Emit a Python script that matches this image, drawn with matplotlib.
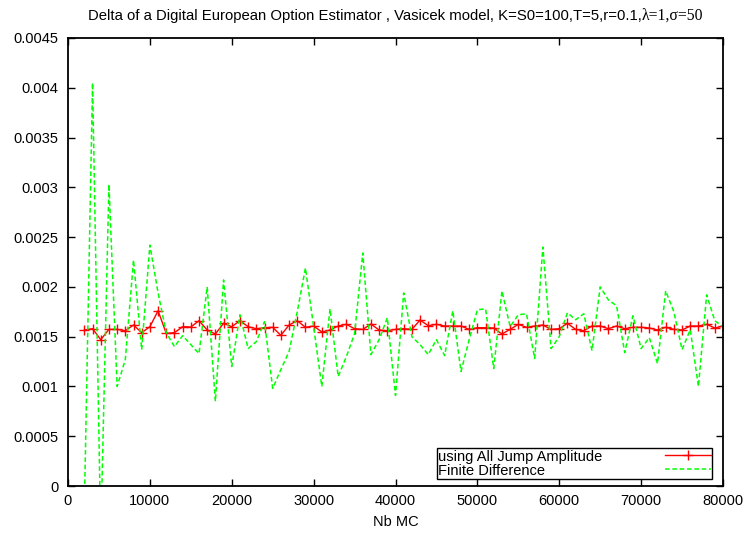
import numpy as np
from matplotlib import pyplot as plt
from matplotlib.ticker import FuncFormatter, MultipleLocator

plt.rcParams['font.family'] = ['Liberation Sans', 'DejaVu Sans']

# Nombre de tirages Monte Carlo
nb_mc = list(range(2000, 81000, 1000))

# Estimateur "All Jump Amplitude"
delta_jump = [
    0.001567, 0.00158, 0.00147, 0.001573, 0.001573, 0.00156, 0.001617, 0.00154, 0.0016, 0.00176,
    0.001533, 0.00154, 0.0016, 0.001597, 0.00166, 0.001567, 0.001527, 0.001634, 0.0016, 0.00166,
    0.0016, 0.00158, 0.00159, 0.001594, 0.001513, 0.001617, 0.00166, 0.001594, 0.001607, 0.001547,
    0.001567, 0.001607, 0.001624, 0.00158, 0.001573, 0.001627, 0.001567, 0.00156, 0.001573, 0.00158,
    0.001573, 0.001667, 0.00161, 0.001624, 0.001607, 0.001607, 0.001607, 0.001573, 0.00159, 0.00159,
    0.001587, 0.001527, 0.001573, 0.001624, 0.001594, 0.001607, 0.001617, 0.001573, 0.00158, 0.001634,
    0.001573, 0.00156, 0.001607, 0.001607, 0.00158, 0.001607, 0.00158, 0.001594, 0.001594, 0.001587,
    0.001567, 0.001594, 0.001573, 0.001567, 0.001607, 0.001607, 0.001624, 0.001587, 0.001607,
]

# Différences finies
delta_fd = [
    -0.0002, 0.00405, -0.0005, 0.00303, 0.00100, 0.00127, 0.00227, 0.00137, 0.00242, 0.00194,
    0.00154, 0.00140, 0.00151, 0.00142, 0.00133, 0.00200, 0.00085, 0.00207, 0.00120, 0.00172,
    0.00138, 0.00145, 0.00165, 0.00098, 0.00117, 0.00135, 0.00175, 0.00219, 0.00160, 0.00100,
    0.00178, 0.00110, 0.00130, 0.00153, 0.00234, 0.00132, 0.00147, 0.00169, 0.00091, 0.00194,
    0.00150, 0.00142, 0.00132, 0.00147, 0.00131, 0.00176, 0.00115, 0.00147, 0.00177, 0.00178,
    0.00118, 0.00196, 0.00160, 0.00172, 0.00173, 0.00128, 0.00240, 0.00138, 0.00150, 0.00174,
    0.00167, 0.00173, 0.00136, 0.00200, 0.00187, 0.00181, 0.00134, 0.00171, 0.00138, 0.00149,
    0.00123, 0.00196, 0.00175, 0.00137, 0.00157, 0.00100, 0.00192, 0.00166, 0.00160,
]

fig = plt.figure(figsize=(7.47, 5.33), dpi=100)
ax = fig.add_axes([68/747, 47/533, 655/747, 448/533])

ax.plot(nb_mc, delta_jump, color='#ff0000', lw=1, marker='+', ms=7, mew=1,
        label="using All Jump Amplitude")
ax.plot(nb_mc, delta_fd, color='#00ff00', lw=1.1, dashes=(3, 1.8),
        label="Finite Difference")

ax.set_xlim(0, 80000)
ax.set_ylim(0, 0.0045)
ax.xaxis.set_major_locator(MultipleLocator(10000))
ax.yaxis.set_major_locator(MultipleLocator(0.0005))
ax.yaxis.set_major_formatter(FuncFormatter(lambda v, p: "%g" % round(v, 6)))
ax.tick_params(direction='in', top=True, right=True, length=5, width=1,
               labelsize=10.5, colors='black')
ax.tick_params(axis='x', pad=6)
ax.tick_params(axis='y', pad=7)
for s in ax.spines.values():
    s.set_linewidth(1.3)

ax.set_xlabel("Nb MC", fontsize=10.5, labelpad=5)

leg = ax.legend(loc='lower right', bbox_to_anchor=(0.9832, 0.0156), borderaxespad=0,
                markerfirst=False, fancybox=False, framealpha=1, edgecolor='black',
                fontsize=10.5, handlelength=3.1, handletextpad=4.3, labelspacing=0.0,
                borderpad=0.1, numpoints=1)
leg.get_frame().set_linewidth(1)

# Titre : partie sans-serif + partie symbole
y_titre = 1 - 20/533
t1 = fig.text(0.5, y_titre, "Delta of a Digital European Option Estimator , Vasicek model, K=S0=100,T=5,r=0.1,",
              fontsize=10.75, ha='left', va='baseline')
t2 = fig.text(0.5, y_titre, "\u03bb=1,\u03c3=50", fontsize=11.3, ha='left', va='baseline',
              family=['Liberation Serif', 'DejaVu Serif'])
fig.canvas.draw()
renderer = fig.canvas.get_renderer()

# Texte de légende aligné à gauche, échantillons à droite (style gnuplot)
largeurs = [t.get_window_extent(renderer).width for t in leg.get_texts()]
for col in leg._legend_handle_box.get_children():
    col.align = 'left'
    for row, w in zip(col.get_children(), largeurs):
        row.sep += (max(largeurs) - w) * 72 / fig.dpi

w1 = t1.get_window_extent().width / fig.bbox.width
w2 = t2.get_window_extent().width / fig.bbox.width
x0 = (68 + 723) / 2 / 747 - (w1 + w2) / 2
t1.set_x(x0)
t2.set_x(x0 + w1)

fig.savefig("out.png", dpi=100)
